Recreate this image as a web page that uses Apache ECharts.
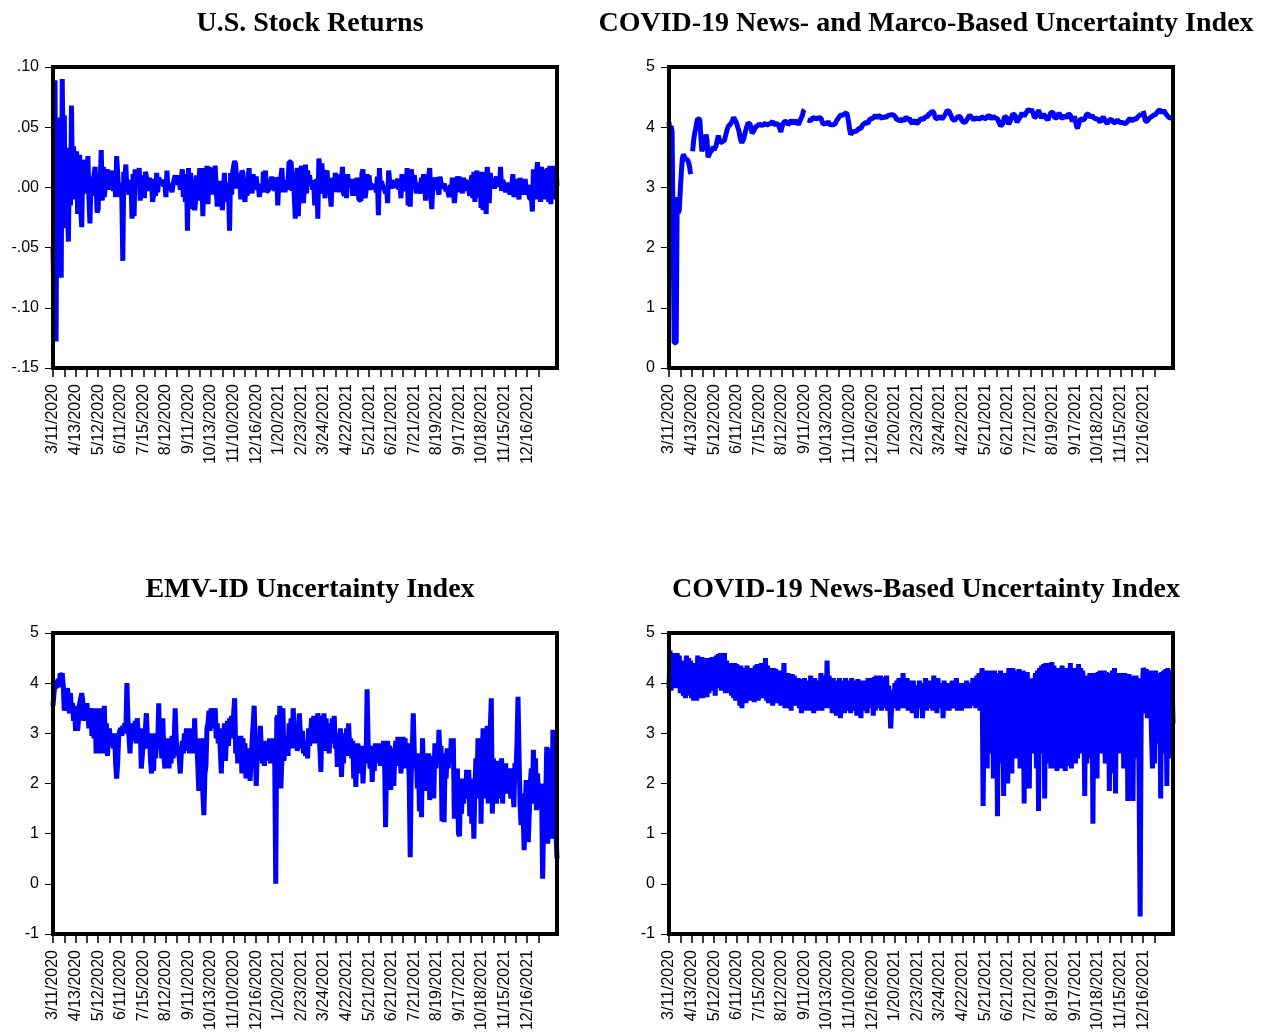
<!DOCTYPE html>
<html>
<head>
<meta charset="utf-8">
<script src="https://cdn.jsdelivr.net/npm/echarts@6/dist/echarts.min.js"></script>
<style>
  html, body { margin: 0; padding: 0; background: #ffffff; }
  #chart { width: 1270px; height: 1036px; }
</style>
</head>
<body>
<div id="chart"></div>
<script>
// Date labels shown on every 22nd trading day
const tickLabels = [
  "3/11/2020", "4/13/2020", "5/12/2020", "6/11/2020", "7/15/2020", "8/12/2020",
  "9/11/2020", "10/13/2020", "11/10/2020", "12/16/2020", "1/20/2021", "2/23/2021",
  "3/24/2021", "4/22/2021", "5/21/2021", "6/21/2021", "7/21/2021", "8/19/2021",
  "9/17/2021", "10/18/2021", "11/15/2021", "12/16/2021"
];

// Daily U.S. stock returns (log), one row per 22 trading days
const stockReturns = [
  -0.050, -0.100, 0.089, -0.128, 0.058, -0.053, 0.005, -0.044, -0.075, 0.090, 0.012, 0.060, -0.034, 0.033, -0.016, -0.045, 0.023, -0.015, 0.068, -0.002, 0.034, 0.014,
  -0.010, 0.030, -0.022, 0.006, 0.027, -0.018, -0.033, 0.023, -0.001, 0.014, 0.015, -0.005, 0.026, -0.009, -0.030, 0.004, 0.009, -0.007, 0.011, 0.017, 0.000, -0.021,
  -0.018, 0.011, 0.004, 0.031, -0.011, 0.017, -0.008, 0.002, 0.012, 0.015, -0.002, 0.005, 0.004, 0.008, 0.014, -0.003, 0.012, -0.008, 0.026, 0.012, -0.005, 0.004,
  -0.008, -0.005, -0.061, 0.013, 0.008, 0.019, -0.004, 0.001, -0.006, 0.006, 0.004, -0.026, 0.011, -0.024, 0.015, 0.015, 0.005, 0.004, 0.016, -0.011, 0.008, -0.006,
  0.010, -0.009, 0.013, 0.009, -0.003, 0.003, 0.008, 0.002, 0.006, -0.012, -0.006, 0.007, -0.007, 0.012, -0.004, 0.008, 0.007, 0.004, 0.006, 0.006, 0.001, 0.003,
  -0.008, 0.014, -0.002, 0.000, 0.003, 0.002, -0.004, 0.003, 0.003, 0.010, 0.004, 0.010, 0.002, 0.007, -0.002, 0.008, 0.015, -0.008, 0.002, -0.012, 0.011, -0.036,
  0.016, -0.018, 0.012, 0.005, -0.005, -0.008, -0.019, -0.011, 0.010, -0.011, 0.003, 0.016, -0.005, 0.008, -0.024, 0.016, 0.005, -0.010, 0.018, -0.014, 0.017, 0.008,
  0.009, 0.016, -0.006, -0.007, 0.018, 0.000, -0.016, 0.005, -0.002, 0.005, 0.003, -0.019, -0.003, 0.012, -0.012, 0.004, -0.008, -0.003, -0.036, 0.012, -0.006, 0.012,
  0.018, 0.022, 0.019, -0.001, 0.012, -0.001, 0.008, -0.010, 0.014, 0.012, -0.005, -0.012, 0.004, -0.007, 0.006, 0.016, -0.002, 0.002, -0.005, 0.011, 0.002, -0.001,
  0.009, -0.002, 0.003, -0.008, -0.001, -0.001, -0.004, 0.013, 0.002, 0.014, -0.004, -0.004, -0.002, 0.001, 0.004, 0.009, -0.002, 0.006, -0.003, 0.008, 0.006, -0.015,
  0.006, -0.004, 0.008, 0.016, 0.000, 0.004, -0.004, 0.006, -0.002, 0.005, 0.021, 0.021, 0.021, -0.003, 0.012, -0.006, -0.026, 0.010, 0.016, -0.024, 0.004, 0.011,
  0.018, -0.008, -0.013, -0.013, 0.019, -0.005, 0.014, 0.006, 0.010, 0.001, 0.006, -0.002, 0.003, -0.015, -0.001, 0.007, -0.026, 0.024, 0.017, 0.007, 0.020, -0.005,
  0.002, -0.009, 0.011, 0.014, -0.001, 0.004, -0.005, -0.016, 0.008, 0.003, -0.004, 0.012, 0.008, -0.002, 0.003, -0.004, 0.011, 0.004, 0.017, -0.005, -0.007, 0.009,
  -0.009, 0.011, 0.002, 0.000, -0.001, 0.007, -0.007, 0.003, -0.007, 0.001, 0.008, 0.007, -0.010, -0.009, -0.011, 0.012, 0.015, -0.002, -0.009, -0.003, 0.011, -0.001,
  0.010, -0.002, 0.002, 0.001, 0.001, -0.001, 0.001, -0.004, 0.009, -0.023, 0.016, -0.002, 0.005, 0.002, 0.002, -0.002, -0.005, -0.001, -0.013, 0.014, 0.005, -0.001,
  0.006, 0.003, 0.002, 0.000, 0.001, 0.005, 0.007, -0.002, 0.003, -0.009, 0.011, 0.003, -0.003, 0.001, -0.003, 0.016, -0.015, 0.003, -0.016, 0.015, 0.008, 0.002,
  0.010, 0.002, -0.005, 0.000, 0.004, -0.005, -0.002, 0.008, -0.005, 0.011, 0.002, -0.011, 0.001, 0.003, 0.004, 0.016, -0.007, -0.018, 0.001, 0.003, 0.008, 0.009,
  0.002, 0.002, -0.006, 0.009, 0.004, -0.001, 0.000, 0.003, 0.000, -0.003, -0.001, -0.005, -0.008, 0.002, -0.006, 0.008, -0.002, -0.013, -0.004, -0.001, 0.009, 0.005,
  0.009, -0.004, 0.002, -0.005, 0.008, -0.003, 0.006, 0.004, 0.005, -0.002, -0.007, 0.003, 0.010, -0.009, 0.013, -0.012, 0.005, 0.014, -0.008, -0.002, 0.012, -0.017,
  0.013, -0.019, 0.011, 0.004, -0.022, 0.017, 0.008, -0.013, 0.012, 0.003, 0.007, 0.004, -0.001, 0.005, 0.009, 0.004, 0.004, 0.001, 0.017, -0.003, 0.006, 0.004,
  0.000, -0.004, 0.004, -0.003, 0.003, -0.006, -0.003, 0.002, 0.011, -0.008, 0.006, 0.003, 0.007, 0.000, -0.010, 0.008, -0.002, 0.004, 0.002, -0.006, 0.007, -0.003,
  -0.004, 0.002, -0.008, -0.010, -0.006, -0.020, 0.015, 0.004, -0.010, 0.012, 0.021, 0.002, 0.016, -0.012, 0.017, -0.006, 0.015, -0.010, 0.013, -0.008,
  0.016, -0.012, 0.018, -0.014, 0.018, -0.010, 0.017, -0.009, 0.018, 0.001
];

// COVID-19 news- and macro-based uncertainty index (log); null = missing day
const newsMacroIndex = [
  4.09, 3.80, 4.02, 3.93, 2.30, 0.42, 0.42, 0.42, 2.84, 2.58, 2.62, 2.95, 3.25, 3.48, 3.55, 3.52, 3.47, 3.50, 3.46, 3.42, 3.35, 3.22,
  null, 3.60, 3.78, 3.90, 3.98, 4.08, 4.14, 4.15, 4.13, 3.85, 3.60, 3.65, 3.62, 3.72, 3.88, 3.80, 3.50, 3.52, 3.58, 3.55, 3.62, 3.68,
  3.62, 3.66, 3.70, 3.78, 3.86, 3.80, 3.74, 3.72, 3.76, 3.74, 3.78, 3.85, 3.92, 3.98, 4.02, 4.00, 4.05, 4.08, 4.12, 4.16, 4.15, 4.10,
  4.06, 4.00, 3.95, 3.85, 3.78, 3.74, 3.76, 3.82, 3.90, 3.96, 4.02, 4.07, 4.08, 4.05, 3.98, 3.90, 3.88, 3.95, 4.00, 4.03, 4.02, 4.04,
  4.05, 4.04, 4.03, 4.06, 4.04, 4.05, 4.07, 4.03, 4.02, 4.05, 4.07, 4.06, 4.08, 4.10, 4.04, 4.02, 4.06, 4.08, 4.05, 4.04, 3.98, 3.92,
  4.00, 4.06, 4.08, 4.10, 4.12, 4.08, 4.04, 4.05, 4.08, 4.12, 4.10, 4.06, 4.08, 4.11, 4.14, 4.08, 4.04, 4.08, 4.12, 4.15, 4.20, 4.27,
  4.29, null, null, 4.12, 4.10, 4.11, 4.14, 4.12, 4.16, 4.18, 4.15, 4.13, 4.14, 4.12, 4.16, 4.18, 4.15, 4.10, 4.05, 4.03, 4.06, 4.04,
  4.06, 4.10, 4.05, 4.03, 4.04, 4.02, 4.04, 4.03, 4.06, 4.10, 4.12, 4.15, 4.18, 4.20, 4.22, 4.20, 4.18, 4.22, 4.25, 4.24, 4.18, 4.08,
  3.96, 3.88, 3.90, 3.92, 3.90, 3.93, 3.95, 3.94, 3.96, 3.98, 4.00, 3.98, 4.02, 4.04, 4.06, 4.05, 4.08, 4.10, 4.06, 4.12, 4.10, 4.14,
  4.12, 4.15, 4.18, 4.20, 4.17, 4.15, 4.19, 4.21, 4.18, 4.16, 4.14, 4.18, 4.20, 4.16, 4.15, 4.19, 4.22, 4.20, 4.18, 4.21, 4.23, 4.20,
  4.18, 4.16, 4.12, 4.10, 4.13, 4.09, 4.11, 4.14, 4.12, 4.10, 4.13, 4.17, 4.15, 4.12, 4.16, 4.10, 4.08, 4.06, 4.09, 4.12, 4.10, 4.06,
  4.04, 4.08, 4.12, 4.10, 4.14, 4.16, 4.13, 4.15, 4.18, 4.20, 4.17, 4.22, 4.25, 4.23, 4.27, 4.28, 4.24, 4.18, 4.14, 4.12, 4.15, 4.14,
  4.18, 4.16, 4.14, 4.15, 4.18, 4.20, 4.24, 4.28, 4.30, 4.26, 4.22, 4.18, 4.14, 4.12, 4.11, 4.13, 4.15, 4.14, 4.18, 4.20, 4.17, 4.12,
  4.10, 4.08, 4.06, 4.09, 4.12, 4.15, 4.18, 4.20, 4.18, 4.16, 4.14, 4.12, 4.14, 4.16, 4.15, 4.14, 4.16, 4.14, 4.15, 4.17, 4.18, 4.15,
  4.16, 4.14, 4.18, 4.20, 4.19, 4.17, 4.14, 4.16, 4.18, 4.16, 4.15, 4.17, 4.14, 4.10, 4.06, 4.02, 4.00, 4.05, 4.12, 4.18, 4.21, 4.16,
  4.10, 4.05, 4.08, 4.12, 4.18, 4.22, 4.25, 4.20, 4.14, 4.08, 4.10, 4.14, 4.17, 4.20, 4.24, 4.22, 4.18, 4.20, 4.24, 4.27, 4.30, 4.28,
  4.26, 4.30, 4.28, 4.22, 4.16, 4.13, 4.18, 4.24, 4.28, 4.25, 4.20, 4.15, 4.18, 4.22, 4.20, 4.16, 4.14, 4.12, 4.16, 4.20, 4.24, 4.27,
  4.25, 4.20, 4.15, 4.12, 4.16, 4.20, 4.24, 4.20, 4.15, 4.12, 4.16, 4.20, 4.18, 4.15, 4.18, 4.22, 4.24, 4.20, 4.14, 4.10, 4.14, 4.18,
  4.10, 4.02, 3.98, 4.04, 4.10, 4.14, 4.16, 4.12, 4.10, 4.14, 4.18, 4.22, 4.24, 4.21, 4.18, 4.16, 4.20, 4.18, 4.15, 4.12, 4.14, 4.16,
  4.13, 4.10, 4.08, 4.12, 4.15, 4.17, 4.14, 4.10, 4.08, 4.06, 4.09, 4.12, 4.15, 4.13, 4.10, 4.08, 4.06, 4.08, 4.10, 4.12, 4.11, 4.08,
  4.06, 4.08, 4.10, 4.07, 4.09, 4.06, 4.08, 4.10, 4.13, 4.15, 4.12, 4.10, 4.12, 4.14, 4.12, 4.13, 4.16, 4.18, 4.16, 4.20, 4.23, null,
  4.27, 4.20, 4.10, 4.08, 4.10, 4.12, 4.15, 4.14, 4.17, 4.19, 4.20, 4.22, 4.21, 4.24, 4.26, 4.28, 4.29, 4.27, 4.24, 4.26,
  4.28, 4.25, 4.22, 4.20, 4.18, 4.16, 4.15, 4.17, 4.16, 4.14
];

// EMV-ID uncertainty index (log)
const emvIdIndex = [
  3.55, 3.80, 4.05, 3.90, 4.00, 4.08, 3.92, 4.20, 4.15, 4.20, 3.95, 3.45, 3.85, 3.60, 3.90, 3.75, 3.40, 3.80, 3.45, 3.60, 3.25, 3.55,
  3.05, 3.40, 3.05, 3.30, 3.60, 3.70, 3.80, 3.65, 3.25, 3.55, 3.30, 3.60, 3.35, 3.10, 3.50, 3.35, 2.95, 3.45, 2.90, 3.50, 2.60, 3.40,
  2.70, 3.50, 3.05, 2.60, 3.45, 2.85, 3.55, 2.60, 3.20, 2.55, 2.90, 3.10, 2.75, 2.95, 2.85, 2.70, 3.00, 2.40, 2.10, 2.40, 2.95, 3.05,
  3.10, 2.95, 3.15, 3.00, 3.20, 3.05, 4.00, 3.30, 2.95, 2.60, 3.10, 2.85, 3.20, 2.90, 3.25, 2.80, 3.30, 3.00, 2.80, 3.10, 2.30, 2.55,
  2.90, 2.70, 3.10, 3.40, 2.90, 2.70, 3.00, 2.45, 2.20, 2.80, 2.25, 3.00, 2.50, 2.90, 2.75, 3.60, 2.70, 2.90, 2.50, 3.30, 2.55, 2.30,
  2.85, 2.35, 2.90, 2.30, 2.70, 2.40, 2.95, 2.50, 2.80, 3.50, 2.90, 2.55, 2.75, 2.50, 2.20, 2.60, 2.85, 2.60, 3.00, 2.65, 3.10, 2.70,
  2.95, 2.60, 3.10, 2.75, 2.85, 2.60, 3.30, 2.60, 2.90, 2.40, 1.85, 2.50, 2.30, 2.90, 1.80, 1.37, 2.20, 2.35, 3.10, 3.20, 3.45, 3.05,
  3.50, 3.10, 3.45, 3.30, 3.50, 2.90, 3.20, 2.80, 3.10, 2.65, 2.20, 3.00, 2.70, 3.20, 2.45, 2.90, 3.25, 2.75, 3.30, 2.90, 3.35, 3.00,
  3.40, 3.70, 2.60, 2.95, 2.40, 2.85, 2.50, 2.95, 2.20, 2.90, 2.45, 2.80, 2.10, 2.70, 2.30, 2.60, 2.05, 2.45, 2.85, 3.20, 3.55, 3.55,
  1.95, 2.60, 2.95, 2.55, 3.15, 2.70, 2.40, 2.85, 2.35, 2.80, 2.45, 2.85, 2.60, 2.90, 2.40, 2.75, 2.55, 2.90, 2.40, 0.00, 3.30, 3.35,
  2.60, 3.55, 1.90, 2.50, 3.50, 2.45, 2.80, 2.60, 2.95, 2.55, 3.20, 2.85, 3.30, 2.70, 3.50, 3.10, 2.75, 3.00, 2.65, 2.85, 3.40, 3.00,
  2.70, 3.05, 2.60, 2.85, 2.55, 2.80, 2.50, 3.10, 2.75, 3.00, 3.30, 2.80, 3.35, 2.95, 3.30, 2.80, 3.40, 3.10, 2.70, 2.23, 3.35, 2.90,
  3.40, 2.65, 3.30, 2.75, 3.20, 2.60, 3.00, 2.80, 3.30, 2.90, 3.35, 2.70, 3.00, 2.33, 2.90, 2.60, 3.10, 2.13, 2.70, 2.40, 3.00, 2.70,
  3.10, 2.55, 3.20, 2.70, 2.90, 2.50, 2.85, 2.10, 2.60, 1.93, 2.55, 2.80, 2.40, 2.70, 2.20, 2.75, 2.00, 2.45, 2.73, 2.40, 3.88, 2.80,
  2.50, 2.30, 2.75, 2.03, 2.60, 2.25, 2.80, 2.40, 2.70, 2.55, 2.80, 2.35, 2.75, 2.60, 2.85, 2.50, 1.13, 2.50, 2.85, 2.30, 2.75, 1.87,
  2.40, 2.70, 1.95, 2.60, 2.85, 2.35, 2.93, 2.50, 2.90, 2.20, 2.65, 2.93, 2.45, 2.90, 2.30, 2.80, 2.60, 2.10, 0.53, 2.20, 2.70, 3.40,
  2.60, 2.30, 2.50, 1.90, 2.60, 1.45, 2.20, 1.33, 2.90, 2.20, 2.60, 1.85, 2.50, 2.20, 2.60, 1.67, 2.40, 2.20, 2.55, 1.70, 2.80, 2.30,
  2.70, 2.40, 3.07, 2.50, 2.75, 1.25, 2.60, 1.23, 2.50, 2.10, 2.70, 2.30, 2.60, 2.40, 2.90, 2.55, 2.90, 1.30, 2.20, 1.60, 2.30, 1.00,
  0.95, 1.90, 1.40, 2.10, 1.60, 2.10, 1.70, 2.27, 1.80, 2.27, 1.35, 2.10, 1.20, 1.80, 0.90, 1.90, 2.50, 1.70, 2.90, 2.20, 2.90, 1.20,
  2.50, 3.10, 1.70, 3.00, 2.00, 3.15, 1.60, 2.80, 3.10, 3.70, 1.40, 2.50, 1.80, 2.40, 1.60, 2.45, 2.00, 2.30, 1.70, 2.50, 1.60, 2.30,
  1.90, 2.40, 1.80, 2.30, 2.00, 2.25, 1.70, 2.30, 1.90, 1.53, 2.40, 2.20, 2.80, 3.73, 2.60, 1.60, 1.17, 1.80, 1.40, 0.67, 1.50, 2.07,
  1.50, 0.83, 1.40, 2.00, 2.30, 1.60, 2.67, 1.70, 2.50, 1.47, 2.20, 1.80, 2.00, 1.50, 1.80, 0.10, 1.20, 2.00, 1.70, 2.73,
  0.80, 1.90, 1.10, 2.70, 0.90, 3.07, 1.00, 2.80, 1.00, 0.50
];

// COVID-19 news-based uncertainty index (log)
const newsIndex = [
  3.90, 4.65, 3.85, 4.60, 4.05, 4.30, 3.90, 4.25, 4.60, 3.95, 4.55, 3.80, 4.45, 4.10, 3.75, 4.05, 3.70, 4.55, 3.80, 4.50, 3.75, 4.45,
  3.70, 4.10, 3.65, 4.40, 4.00, 3.65, 4.55, 3.70, 4.50, 3.90, 4.52, 3.70, 4.45, 3.85, 4.50, 3.72, 4.40, 3.80, 4.50, 3.95, 4.52, 3.85,
  4.50, 3.75, 4.55, 3.90, 4.58, 4.00, 4.60, 3.85, 4.58, 3.95, 4.60, 3.80, 4.45, 3.90, 4.40, 3.80, 4.35, 3.75, 4.40, 3.70, 4.40, 3.65,
  4.38, 3.70, 4.30, 3.55, 4.35, 3.50, 4.25, 3.75, 4.30, 3.60, 4.35, 3.70, 4.28, 3.65, 4.30, 3.80, 4.00, 3.62, 4.35, 3.70, 4.38, 3.65,
  4.35, 3.75, 4.40, 3.70, 4.30, 3.75, 4.50, 3.65, 4.35, 3.60, 4.30, 3.70, 4.25, 3.55, 4.30, 3.75, 4.28, 3.60, 4.20, 3.70, 4.25, 3.55,
  4.20, 3.60, 4.40, 3.50, 4.15, 3.55, 4.20, 3.50, 4.10, 3.45, 4.18, 3.70, 4.15, 3.55, 4.05, 3.65, 4.10, 3.50, 4.05, 3.40, 4.08, 3.55,
  4.10, 3.45, 4.05, 3.60, 4.00, 3.45, 4.15, 3.50, 4.05, 3.40, 4.10, 3.55, 4.00, 3.45, 4.05, 3.60, 4.20, 3.45, 4.10, 3.55, 4.15, 3.50,
  4.45, 3.55, 4.15, 3.50, 4.05, 3.40, 4.10, 3.60, 4.00, 3.35, 4.05, 3.45, 4.10, 3.30, 4.00, 3.50, 4.05, 3.40, 4.10, 3.60, 3.95, 3.45,
  4.05, 3.40, 4.10, 3.50, 4.00, 3.45, 4.05, 3.35, 4.08, 3.55, 4.00, 3.30, 4.05, 3.45, 3.90, 3.50, 4.05, 3.40, 4.10, 3.65, 4.05, 3.50,
  4.10, 3.35, 4.12, 3.45, 4.15, 3.50, 4.10, 3.60, 4.15, 3.45, 4.12, 3.50, 4.05, 3.55, 4.15, 3.45, 3.95, 3.60, 3.10, 3.60, 3.85, 3.50,
  4.00, 3.65, 4.05, 3.45, 4.10, 3.50, 3.95, 3.55, 4.20, 3.50, 4.05, 3.60, 4.10, 3.45, 4.05, 3.55, 4.00, 3.40, 4.05, 3.60, 3.95, 3.30,
  3.95, 3.55, 4.05, 3.50, 3.90, 3.30, 4.00, 3.60, 4.10, 3.45, 3.95, 3.50, 4.05, 3.55, 3.90, 3.45, 4.15, 3.60, 3.95, 3.40, 4.10, 3.55,
  4.00, 3.50, 3.95, 3.30, 4.05, 3.45, 3.90, 3.55, 4.00, 3.45, 3.95, 3.60, 4.05, 3.50, 3.90, 3.55, 4.10, 3.45, 4.00, 3.60, 3.95, 3.45,
  4.00, 3.55, 3.95, 3.50, 4.05, 3.60, 3.90, 3.50, 4.00, 3.55, 4.10, 3.60, 3.95, 3.50, 4.15, 3.55, 4.20, 3.45, 4.00, 4.30, 1.55, 3.40,
  3.60, 4.25, 2.30, 4.20, 3.40, 4.25, 2.60, 4.15, 2.10, 4.25, 3.50, 4.20, 1.35, 4.10, 2.40, 4.25, 3.00, 4.15, 1.75, 4.20, 2.60, 3.85,
  2.00, 4.30, 2.80, 4.25, 2.20, 4.30, 3.20, 4.25, 2.50, 4.20, 3.40, 4.28, 2.30, 4.20, 2.90, 4.25, 1.60, 4.15, 2.40, 4.22, 3.00, 1.90,
  4.10, 3.50, 3.80, 2.60, 3.75, 4.20, 2.30, 4.25, 1.45, 4.30, 3.20, 4.35, 2.60, 4.38, 1.70, 4.40, 2.40, 4.35, 3.00, 4.40, 2.30, 4.42,
  2.30, 4.35, 3.20, 4.30, 2.25, 4.25, 3.40, 4.30, 2.30, 4.35, 2.70, 4.25, 2.25, 4.30, 3.30, 4.28, 2.35, 4.40, 2.30, 4.25, 3.00, 4.30,
  2.40, 4.30, 2.50, 4.38, 3.20, 4.30, 2.60, 4.25, 3.75, 1.75, 4.10, 2.40, 4.15, 3.00, 4.20, 2.50, 4.15, 1.20, 4.20, 2.60, 4.15, 2.10,
  4.22, 3.30, 4.25, 2.60, 4.20, 3.10, 4.25, 2.40, 4.22, 3.50, 4.15, 1.85, 4.20, 2.80, 4.25, 2.20, 4.30, 1.80, 4.20, 2.90, 4.15, 2.60,
  4.20, 3.20, 4.15, 2.30, 4.20, 3.00, 4.15, 1.65, 4.18, 2.80, 4.10, 3.40, 1.65, 4.15, 2.50, 4.15, 3.10, 4.10, 1.90, -0.65, 3.35, 3.38,
  4.30, 4.25, 3.40, 4.28, 3.30, 4.22, 3.60, 4.25, 3.00, 2.30, 4.20, 2.40, 4.25, 3.50, 4.20, 2.80, 4.15, 1.70, 4.22, 2.60,
  4.25, 2.80, 4.28, 1.95, 4.30, 2.50, 4.25, 3.60, 4.20, 3.20
];

const LABEL_STEP = 22;   // trading days between date labels
const TICK_STEP = 11;    // trading days between tick marks
const N = Math.max(stockReturns.length, newsMacroIndex.length, emvIdIndex.length, newsIndex.length);
const categories = Array.from({ length: N }, (_, i) => String(i));

const SANS = "'Liberation Sans', Arial, sans-serif";
const SERIF = "'Liberation Serif', 'Times New Roman', serif";
const LINE_BLUE = '#0000FF';

function fmtReturn(v) {
  const s = (Math.round(v * 100) / 100).toFixed(2);
  return s.replace('0.', '.');
}
function fmtInt(v) { return String(Math.round(v)); }

const panels = [
  { title: 'U.S. Stock Returns', data: stockReturns, min: -0.15, max: 0.10, interval: 0.05, fmt: fmtReturn, left: 53, top: 67 },
  { title: 'COVID-19 News- and Marco-Based Uncertainty Index', data: newsMacroIndex, min: 0, max: 5, interval: 1, fmt: fmtInt, left: 669, top: 67 },
  { title: 'EMV-ID Uncertainty Index', data: emvIdIndex, min: -1, max: 5, interval: 1, fmt: fmtInt, left: 53, top: 633 },
  { title: 'COVID-19 News-Based Uncertainty Index', data: newsIndex, min: -1, max: 5, interval: 1, fmt: fmtInt, left: 669, top: 633 }
];
const PW = 504, PH = 301;

const option = {
  animation: false,
  backgroundColor: '#ffffff',
  title: panels.map(p => ({
    text: p.title,
    left: p.left + PW / 2,
    top: p.top - 62,
    textAlign: 'center',
    textStyle: { fontFamily: SERIF, fontWeight: 'bold', fontSize: 28, color: '#000' }
  })),
  grid: panels.map(p => ({
    left: p.left, top: p.top, width: PW, height: PH,
    show: true, borderColor: '#000', borderWidth: 4, z: 10,
    backgroundColor: 'transparent'
  })),
  xAxis: panels.map((p, k) => ({
    type: 'category',
    gridIndex: k,
    data: categories,
    boundaryGap: false,
    axisLine: { show: false, onZero: false },
    axisTick: { show: true, interval: TICK_STEP - 1, length: 9, lineStyle: { color: '#000', width: 1.5 } },
    axisLabel: {
      interval: LABEL_STEP - 1,
      rotate: 90,
      margin: 16,
      fontSize: 16,
      fontFamily: SANS,
      color: '#000',
      showMaxLabel: false,
      formatter: (v, idx) => (idx % LABEL_STEP === 0 && tickLabels[idx / LABEL_STEP]) ? tickLabels[idx / LABEL_STEP] : ''
    },
    splitLine: { show: false }
  })),
  yAxis: panels.map((p, k) => ({
    type: 'value',
    gridIndex: k,
    min: p.min, max: p.max, interval: p.interval,
    axisLine: { show: false },
    axisTick: { show: true, length: 8, lineStyle: { color: '#000', width: 1 } },
    axisLabel: { margin: 14, fontSize: 16, fontFamily: SANS, color: '#000', formatter: p.fmt },
    splitLine: { show: false }
  })),
  series: panels.map((p, k) => ({
    type: 'line',
    xAxisIndex: k,
    yAxisIndex: k,
    data: p.data,
    showSymbol: false,
    symbol: 'none',
    connectNulls: false,
    clip: true,
    lineStyle: { color: LINE_BLUE, width: 5 }
  }))
};

const chart = echarts.init(document.getElementById('chart'), null, { renderer: 'canvas' });
chart.setOption(option);
</script>
</body>
</html>
